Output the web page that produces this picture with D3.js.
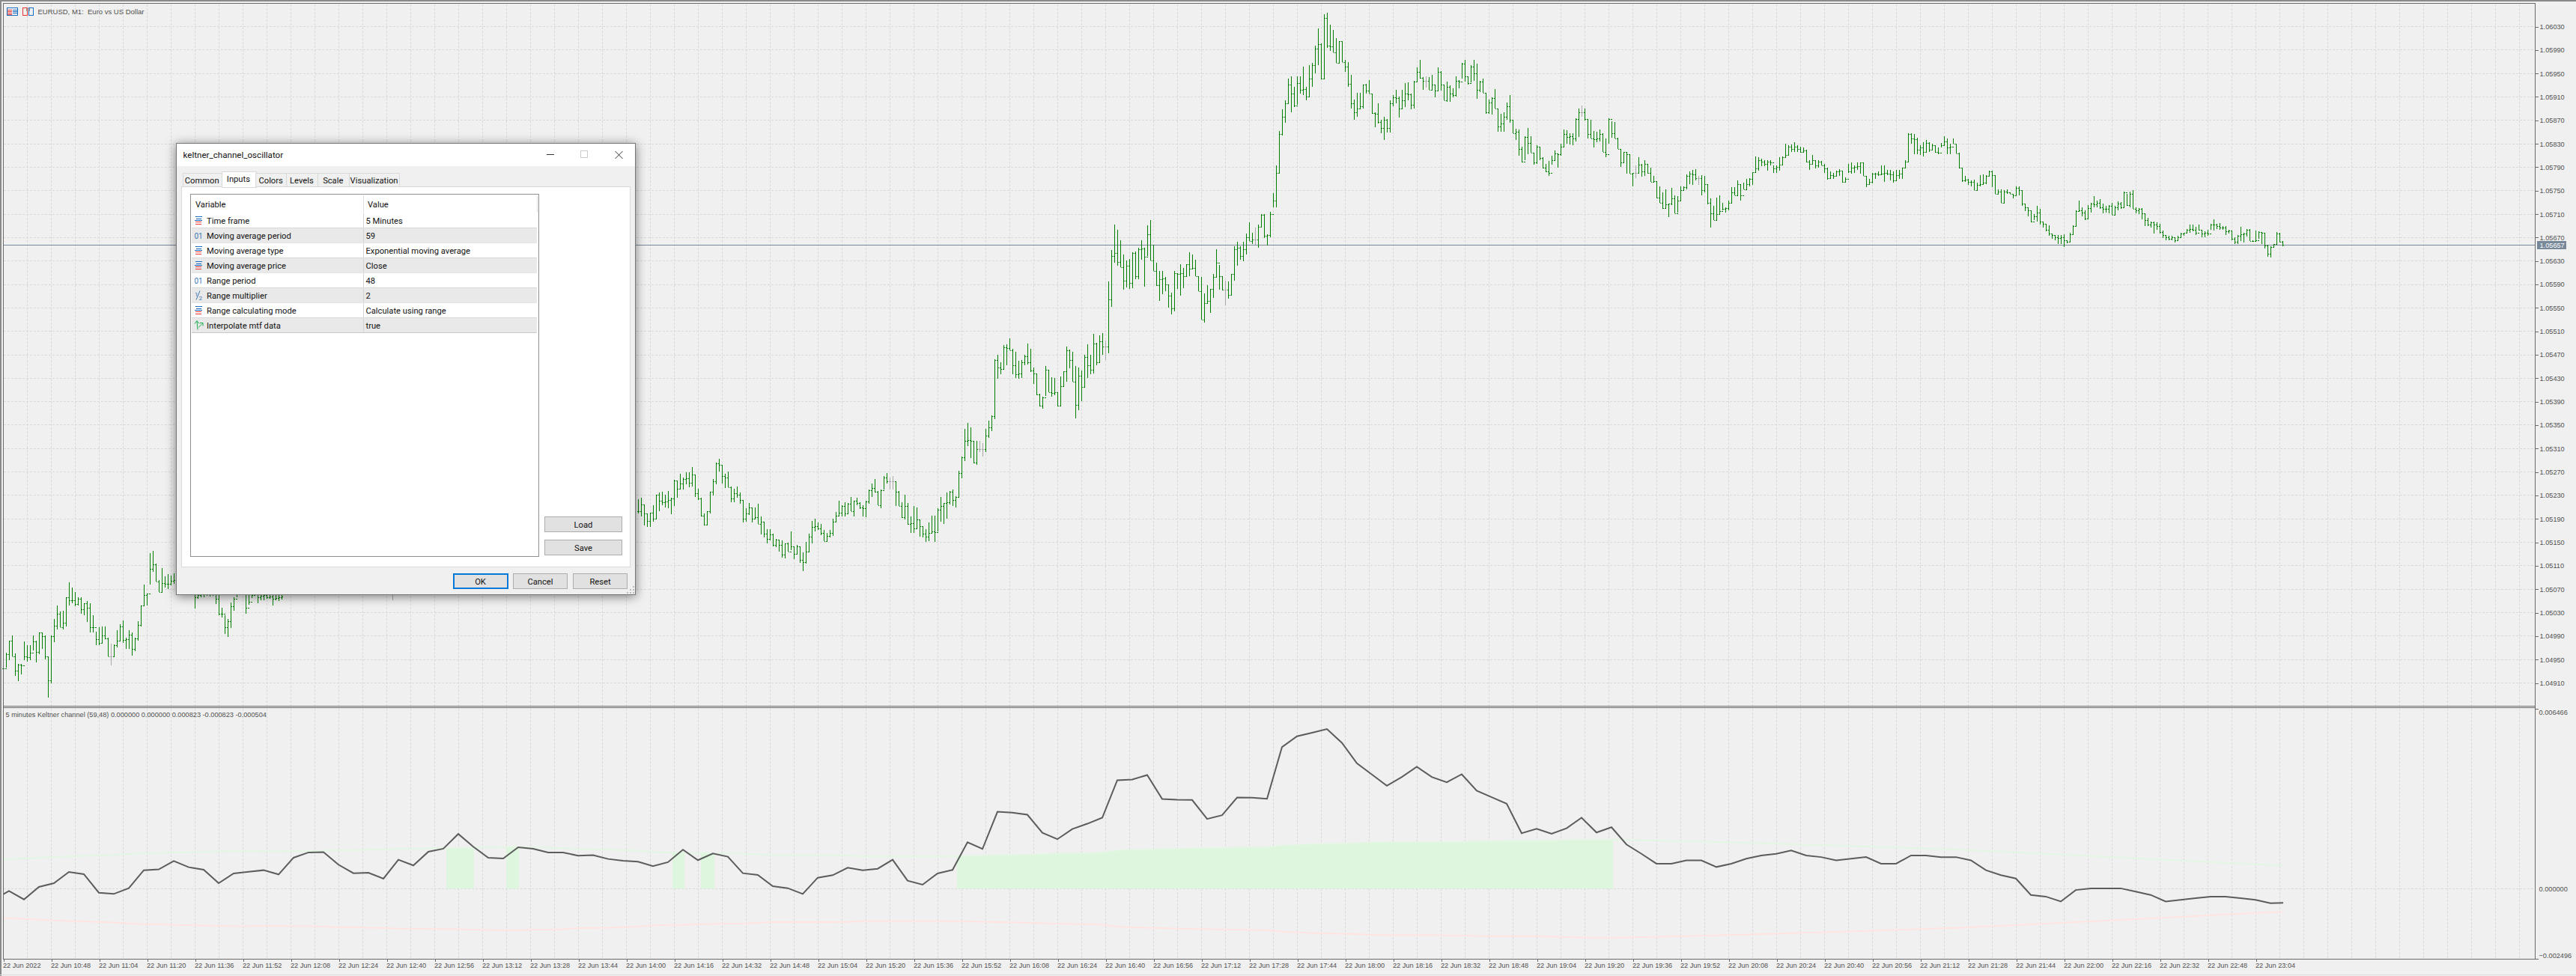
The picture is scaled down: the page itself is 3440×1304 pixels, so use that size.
<!DOCTYPE html>
<html><head><meta charset="utf-8">
<script src="https://cdn.jsdelivr.net/npm/d3@7/dist/d3.min.js"></script>
<style>html,body{margin:0;padding:0;background:#f0f0f0;overflow:hidden}svg{display:block}</style>
</head><body><svg id="c" width="3440" height="1304"></svg>
<script>
// Prices are kept as points above 1.00000 (5657 = 1.05657). Bars under the dialog are not readable and are omitted.
const leftStart = 0;
const highsLeft = [4935,4961,4982,4991,4960,4942,4942,4980,4974,4974,4991,4981,4996,4995,4990,4953,4990,5019,5042,5031,
5033,5055,5081,5072,5065,5056,5055,5046,5049,5045,5025,4997,5004,5006,5006,4986,4976,4975,4999,5010,
5016,4987,4999,4995,4987,5015,5042,5077,5062,5131,5135,5113,5085,5106,5091,5095,5093,5097,5110,5112,
5115,5110,5105,5100,5095,5090,5090,5088,5088,5086,5086,5080,5065,5038,5025,5018,5047,5056,5075,5100,
5100,5075,5080,5085,5085,5085,5085,5085,5085,5085,5085,5085,5085,5085];
const lowsLeft = [4932,4935,4948,4955,4921,4912,4924,4948,4946,4948,4965,4944,4958,4968,4950,4885,4909,4979,5001,5005,
5001,5006,5042,5046,5040,5042,5027,5025,5013,4995,4995,4974,4974,4976,4984,4955,4940,4954,4970,4980,
4978,4967,4967,4956,4963,4981,5006,5042,5041,5077,5099,5082,5064,5064,5072,5069,5076,5079,5070,5072,
5075,5070,5065,5060,5036,5053,5055,5056,5058,5057,5058,5044,5025,5021,4993,4988,5003,5032,5055,5065,
5065,5027,5043,5054,5060,5045,5050,5050,5053,5053,5041,5050,5049,5052];
const closesLeft = [4934,4958,4982,4955,4931,4941,4940,4955,4954,4961,4980,4962,4996,4989,4955,4914,4989,5007,5027,5005,
5012,5055,5050,5051,5044,5053,5035,5045,5038,5004,5005,4984,4978,4991,4985,4955,4955,4974,4982,5006,
4983,4984,4992,4967,4985,5008,5042,5060,5062,5104,5112,5082,5064,5080,5079,5078,5084,5085,5088,5092,
5095,5090,5085,5080,5055,5060,5062,5063,5064,5063,5065,5053,5028,5027,5004,5015,5040,5053,5063,5080,
5078,5038,5048,5060,5062,5055,5058,5059,5056,5057,5053,5054,5056,5057];
const midStart = 130;
const highsMid = [5090];
const lowsMid = [5050];
const closesMid = [5070];
const rightStart = 212;
const highsRight = [5223,5225,5214,5199,5200,5213,5231,5235,5236,5230,
5237,5225,5256,5254,5266,5260,5269,5269,5278,5264,
5241,5225,5199,5203,5236,5258,5286,5292,5282,5266,
5270,5245,5241,5245,5235,5221,5207,5216,5209,5209,
5215,5193,5185,5172,5172,5164,5155,5153,5153,5148,
5149,5168,5143,5145,5143,5132,5150,5164,5186,5190,
5183,5181,5170,5166,5170,5190,5201,5220,5213,5218,
5217,5227,5220,5226,5218,5213,5220,5240,5250,5257,
5237,5239,5262,5267,5260,5262,5254,5237,5218,5230,
5217,5194,5212,5209,5188,5176,5172,5183,5195,5195,
5207,5227,5217,5235,5237,5239,5228,5271,5296,5343,
5353,5345,5323,5323,5323,5319,5343,5357,5366,5462,
5470,5457,5486,5487,5497,5479,5475,5459,5461,5470,
5489,5480,5448,5437,5403,5398,5450,5444,5431,5430,
5404,5432,5441,5484,5478,5475,5450,5448,5443,5470,
5487,5470,5505,5490,5502,5507,5493,5595,5648,5692,
5682,5665,5641,5630,5633,5644,5645,5652,5665,5652,
5690,5699,5657,5627,5612,5613,5602,5590,5575,5612,
5607,5624,5618,5624,5644,5641,5631,5604,5602,5574,
5588,5582,5607,5649,5623,5603,5596,5594,5607,5655,
5662,5655,5662,5676,5695,5677,5687,5691,5710,5709,
5675,5713,5745,5793,5851,5888,5904,5941,5944,5927,
5944,5944,5961,5927,5964,5967,5997,6026,6001,6050,
6053,6032,6023,6010,6005,6004,5972,5969,5947,5905,
5916,5916,5931,5932,5938,5915,5883,5899,5870,5875,
5872,5903,5912,5921,5910,5921,5933,5934,5915,5937,
5960,5972,5943,5945,5943,5947,5931,5960,5953,5930,
5936,5929,5924,5944,5938,5967,5972,5944,5963,5972,
5966,5937,5941,5916,5905,5909,5923,5890,5881,5883,
5900,5912,5871,5855,5854,5825,5842,5856,5842,5814,
5827,5824,5806,5795,5800,5809,5818,5812,5830,5854,
5852,5847,5847,5873,5889,5895,5890,5872,5871,5851,
5850,5854,5847,5838,5873,5868,5866,5840,5821,5816,
5815,5811,5780,5793,5807,5795,5801,5795,5788,5775,
5765,5757,5746,5752,5727,5754,5742,5740,5757,5757,
5777,5782,5785,5786,5775,5776,5775,5761,5736,5723,
5738,5742,5729,5721,5733,5755,5755,5767,5761,5763,
5770,5771,5781,5808,5806,5804,5802,5801,5801,5792,
5792,5806,5808,5829,5827,5828,5832,5827,5824,5823,
5819,5801,5810,5802,5801,5800,5795,5788,5782,5780,
5784,5786,5784,5772,5795,5797,5792,5797,5798,5797,
5774,5770,5780,5780,5782,5793,5793,5785,5785,5782,
5785,5785,5789,5801,5848,5847,5846,5840,5827,5832,
5836,5832,5829,5827,5823,5831,5842,5838,5829,5839,
5829,5814,5788,5774,5770,5767,5768,5763,5776,5777,
5776,5784,5784,5776,5751,5751,5750,5751,5747,5744,
5757,5757,5750,5727,5721,5716,5710,5723,5719,5697,
5691,5690,5676,5674,5674,5674,5675,5665,5677,5690,
5716,5733,5721,5716,5725,5729,5740,5733,5735,5727,
5723,5725,5729,5723,5731,5730,5748,5744,5748,5750,
5721,5720,5720,5711,5703,5697,5697,5695,5693,5681,
5674,5672,5673,5670,5673,5678,5678,5684,5691,5691,
5688,5691,5682,5680,5682,5693,5700,5693,5694,5689,
5689,5682,5680,5670,5674,5688,5678,5684,5684,5665,
5681,5680,5679,5678,5657,5654,5659,5679,5678,5663];
const lowsRight = [5198,5194,5178,5176,5175,5184,5190,5203,5213,5209,
5208,5197,5212,5225,5240,5240,5248,5243,5245,5227,
5222,5194,5178,5180,5198,5229,5249,5270,5250,5242,
5243,5218,5218,5225,5215,5183,5185,5196,5183,5190,
5181,5163,5158,5148,5153,5143,5141,5134,5123,5122,
5134,5136,5121,5128,5114,5100,5113,5133,5148,5168,
5170,5162,5152,5152,5158,5160,5184,5194,5193,5194,
5198,5203,5194,5213,5206,5194,5192,5215,5227,5234,
5213,5208,5239,5250,5240,5240,5212,5212,5191,5188,
5179,5166,5166,5173,5159,5158,5150,5152,5164,5150,
5168,5185,5181,5190,5214,5212,5209,5227,5259,5288,
5314,5293,5284,5282,5303,5296,5303,5328,5339,5359,
5428,5436,5445,5452,5477,5436,5430,5428,5430,5451,
5453,5440,5419,5401,5381,5378,5399,5406,5398,5401,
5381,5382,5414,5423,5447,5424,5361,5375,5390,5414,
5430,5436,5437,5451,5456,5470,5460,5472,5551,5626,
5621,5619,5580,5584,5582,5583,5598,5598,5632,5586,
5638,5630,5612,5587,5561,5573,5578,5550,5538,5543,
5582,5570,5583,5602,5604,5615,5604,5578,5529,5524,
5558,5541,5567,5602,5580,5579,5554,5565,5570,5596,
5621,5631,5629,5640,5663,5658,5657,5652,5687,5669,
5656,5670,5721,5721,5780,5843,5865,5897,5883,5892,
5896,5915,5912,5903,5910,5927,5950,5964,5939,5939,
5993,5988,5985,5967,5966,5969,5952,5926,5890,5870,
5875,5888,5890,5915,5915,5880,5858,5864,5847,5836,
5849,5849,5893,5898,5874,5890,5892,5903,5888,5890,
5935,5941,5922,5925,5922,5922,5909,5920,5920,5903,
5901,5901,5909,5910,5924,5941,5935,5930,5934,5937,
5906,5918,5916,5881,5881,5879,5890,5850,5850,5850,
5871,5865,5847,5836,5809,5798,5801,5812,5814,5794,
5795,5801,5787,5781,5775,5794,5801,5788,5809,5824,
5830,5828,5827,5833,5841,5875,5869,5838,5838,5823,
5832,5833,5816,5807,5830,5840,5838,5821,5790,5796,
5778,5779,5757,5771,5778,5773,5774,5778,5764,5764,
5736,5728,5718,5718,5704,5725,5711,5712,5733,5750,
5751,5761,5759,5767,5759,5742,5746,5726,5687,5699,
5699,5710,5716,5712,5716,5728,5742,5741,5733,5751,
5751,5757,5759,5781,5784,5791,5791,5784,5792,5780,
5780,5784,5793,5806,5810,5815,5816,5816,5814,5815,
5797,5785,5794,5787,5788,5792,5780,5768,5770,5770,
5773,5774,5763,5763,5780,5778,5780,5785,5778,5774,
5756,5761,5762,5770,5775,5776,5765,5776,5767,5763,
5767,5770,5770,5788,5799,5829,5812,5812,5810,5808,
5816,5816,5819,5814,5812,5823,5827,5812,5812,5829,
5813,5787,5764,5764,5759,5757,5750,5750,5757,5759,
5761,5774,5755,5744,5744,5728,5728,5744,5744,5736,
5742,5742,5723,5714,5706,5695,5699,5697,5691,5687,
5680,5672,5667,5665,5658,5658,5653,5660,5662,5675,
5689,5713,5706,5699,5702,5712,5721,5721,5718,5711,
5712,5711,5708,5708,5716,5719,5721,5723,5721,5718,
5711,5710,5700,5689,5689,5687,5676,5682,5676,5669,
5665,5665,5665,5661,5663,5670,5673,5676,5678,5680,
5674,5681,5670,5670,5672,5682,5681,5684,5682,5682,
5674,5676,5665,5659,5658,5664,5661,5671,5663,5662,
5664,5667,5658,5651,5637,5635,5653,5658,5661,5654];
const closesRight = [5203,5214,5199,5186,5200,5190,5231,5220,5218,5219,
5222,5224,5255,5241,5250,5258,5259,5251,5265,5233,
5224,5195,5179,5203,5236,5254,5284,5282,5263,5260,
5243,5224,5233,5230,5221,5190,5198,5209,5190,5192,
5181,5185,5164,5155,5163,5145,5154,5145,5128,5148,
5134,5143,5130,5143,5120,5116,5133,5159,5176,5177,
5173,5165,5152,5160,5165,5185,5195,5200,5212,5198,
5215,5203,5220,5217,5209,5207,5219,5238,5242,5236,
5213,5238,5260,5254,5254,5254,5236,5212,5192,5212,
5181,5182,5173,5188,5177,5164,5159,5166,5168,5167,
5205,5212,5217,5218,5236,5222,5227,5268,5295,5323,
5324,5322,5286,5308,5308,5308,5331,5346,5365,5461,
5448,5445,5482,5481,5477,5451,5436,5437,5456,5467,
5456,5443,5437,5402,5383,5396,5444,5406,5404,5405,
5382,5416,5441,5477,5461,5424,5384,5433,5414,5465,
5451,5444,5488,5456,5492,5483,5483,5564,5638,5643,
5628,5619,5596,5621,5592,5643,5603,5650,5651,5637,
5675,5630,5612,5588,5598,5600,5590,5570,5548,5609,
5607,5609,5604,5624,5616,5617,5604,5578,5529,5558,
5561,5582,5602,5627,5603,5581,5581,5571,5607,5650,
5652,5638,5649,5670,5663,5666,5666,5688,5708,5673,
5674,5709,5733,5780,5846,5875,5898,5931,5915,5895,
5933,5922,5923,5910,5940,5964,5992,5999,5941,6044,
5997,5995,5985,5967,6004,5969,5961,5932,5898,5883,
5889,5893,5930,5920,5915,5882,5881,5866,5856,5870,
5856,5898,5909,5907,5889,5903,5915,5914,5896,5936,
5952,5942,5937,5937,5922,5930,5920,5952,5930,5903,
5926,5915,5912,5937,5935,5966,5944,5933,5961,5949,
5922,5935,5916,5883,5900,5908,5890,5859,5864,5876,
5893,5871,5847,5850,5820,5799,5841,5831,5814,5798,
5824,5805,5788,5782,5780,5801,5813,5811,5824,5846,
5841,5842,5838,5872,5883,5883,5872,5846,5838,5837,
5838,5846,5816,5812,5872,5848,5838,5821,5797,5815,
5811,5779,5780,5780,5794,5782,5795,5780,5764,5766,
5738,5728,5720,5726,5727,5736,5711,5733,5750,5756,
5775,5778,5777,5771,5771,5750,5761,5728,5711,5699,
5710,5714,5719,5720,5728,5746,5742,5761,5742,5751,
5761,5770,5781,5787,5801,5799,5795,5799,5797,5787,
5790,5794,5806,5810,5824,5821,5825,5821,5816,5818,
5799,5795,5801,5793,5799,5793,5787,5771,5776,5774,
5782,5784,5764,5770,5782,5789,5790,5791,5797,5774,
5761,5765,5778,5779,5777,5778,5780,5778,5777,5767,
5776,5778,5788,5799,5846,5838,5837,5819,5823,5816,
5831,5819,5827,5816,5814,5827,5833,5823,5824,5829,
5813,5788,5767,5768,5765,5764,5750,5759,5761,5763,
5774,5782,5776,5744,5748,5728,5748,5746,5744,5742,
5754,5750,5727,5721,5716,5697,5706,5712,5697,5693,
5682,5676,5674,5670,5668,5670,5665,5662,5675,5689,
5715,5716,5712,5702,5720,5727,5726,5729,5721,5719,
5718,5723,5708,5721,5727,5721,5747,5725,5744,5719,
5716,5719,5711,5699,5692,5695,5692,5689,5679,5674,
5670,5667,5670,5665,5670,5676,5677,5682,5684,5682,
5678,5683,5676,5678,5676,5691,5692,5689,5687,5686,
5680,5681,5667,5662,5672,5675,5676,5683,5663,5664,
5665,5679,5677,5656,5642,5653,5658,5676,5662,5657];
const lastPrice = 1.05657;
const priceTicks = [1.04910,1.04950,1.04990,1.05030,1.05070,1.05110,1.05150,1.05190,1.05230,1.05270,1.05310,1.05350,1.05390,1.05430,1.05470,1.05510,1.05550,1.05590,1.05630,1.05670,1.05710,1.05750,1.05790,1.05830,1.05870,1.05910,1.05950,1.05990,1.06030];
const timeLabels = ["22 Jun 2022","22 Jun 10:48","22 Jun 11:04","22 Jun 11:20","22 Jun 11:36","22 Jun 11:52","22 Jun 12:08","22 Jun 12:24","22 Jun 12:40","22 Jun 12:56","22 Jun 13:12","22 Jun 13:28","22 Jun 13:44","22 Jun 14:00","22 Jun 14:16","22 Jun 14:32","22 Jun 14:48","22 Jun 15:04","22 Jun 15:20","22 Jun 15:36","22 Jun 15:52","22 Jun 16:08","22 Jun 16:24","22 Jun 16:40","22 Jun 16:56","22 Jun 17:12","22 Jun 17:28","22 Jun 17:44","22 Jun 18:00","22 Jun 18:16","22 Jun 18:32","22 Jun 18:48","22 Jun 19:04","22 Jun 19:20","22 Jun 19:36","22 Jun 19:52","22 Jun 20:08","22 Jun 20:24","22 Jun 20:40","22 Jun 20:56","22 Jun 21:12","22 Jun 21:28","22 Jun 21:44","22 Jun 22:00","22 Jun 22:16","22 Jun 22:32","22 Jun 22:48","22 Jun 23:04"];
// Oscillator, millionths, one value per 5-minute bar
const oscValues = [-385,-80,-385,63,197,599,519,-143,-188,18,662,689,993,769,680,197,546,608,662,510,1109,1297,1306,859,554,572,358,1037,832,1324,1431,1959,1502,1109,1082,1485,
1431,1297,1297,1180,1198,1064,1002,966,805,948,1395,1020,1261,1145,554,492,89,18,-188,393,483,751,662,715,1037,286,143,546,671,1663,1422,2754,2719,2647,2003,1771,2137,2325,2540,3881,3908,4069,3210,3184,3175,2495,2629,3264,3255,3219,5071,5455,5580,5715,5223,4489,4087,3684,3997,4364,3997,3810,4096,3506,3273,3041,1985,2146,1967,2164,2540,2012,2200,1583,
1249,895,895,1013,1013,777,895,1072,1190,1249,1366,1190,1131,1013,1072,1131,895,895,1190,1190,1131,1131,1013,660,483,365,-224,-283,-460,-47,12,12,12,-106,-224,-460,-400,-342,-283,-283,-342,-400,-518,-504];
const bandValues = [1055,1064,1082,1109,1136,1154,1172,1190,1207,1243,1270,1279,1297,1306,1315,1333,1341,1341,1333,1333,1341,1341,1359,1377,1377,1395,1404,1431,1431,1440,1449,1449,1467,1476,1484,1493,
1467,1467,1449,1413,1404,1395,1377,1359,1315,1297,1297,1270,1261,1252,1252,1225,1198,1198,1198,1198,1198,1189,1154,1154,1154,1154,1154,1154,1162,1171,1180,1198,1207,1216,1234,1252,1261,1270,1288,1359,1386,1395,1413,1431,1440,1449,1458,1467,1476,1485,1538,1565,1583,1600,1610,1628,1654,1663,1663,1663,1663,1672,1672,1690,1699,1708,1708,1708,1717,1735,1744,1753,1753,1744,
1735,1726,1708,1699,1681,1672,1654,1645,1627,1609,1591,1573,1564,1546,1528,1510,1492,1474,1456,1438,1420,1402,1375,1348,1330,1303,1276,1249,1222,1195,1168,1141,1114,1087,1060,1033,1006,979,952,925,898,871,850,823];
// Spans (in minutes from the first bar) where the oscillator sits above the upper band
const fillFromMinute = [147.9,167.9,223.4,232.9,318.4];
const fillToMinute = [157.1,172.1,227.4,237.4,537.4];
const oscTicks = [-0.002496,0,0.006466];
const oscLegend = "5 minutes Keltner channel (59,48) 0.000000 0.000000 0.000823 -0.000823 -0.000504";
const chartTitle = "EURUSD, M1:  Euro vs US Dollar";
const tabNames = ["Common","Inputs","Colors","Levels","Scale","Visualization"];
const inputNames = ["Time frame","Moving average period","Moving average type","Moving average price","Range period","Range multiplier","Range calculating mode","Interpolate mtf data"];
const inputValues = ["5 Minutes","59","Exponential moving average","Close","48","2","Calculate using range","true"];
const inputKinds = ["enum","int","enum","enum","int","frac","enum","bool"];

const svg = d3.select("#c");
const CF = "'Liberation Sans',Arial,sans-serif", UI = "Roboto,'Noto Sans',sans-serif";
const GRID = "#d9d9d9", FRAME = "#6a6a6a", TXT = "#505050";
const pts = p => 1 + p / 100000;
const x = d3.scaleLinear().domain([0, 840]).range([4.5, 3364.5]);
const yP = d3.scaleLinear().domain([1.04910, 1.06030]).range([912, 35]);
const yO = d3.scaleLinear().domain([-0.002496, 0.006466]).range([1280.5, 946]);
const snap = v => Math.round(v) + 0.5;

function seg(start, hi, lo, cl) {
  return hi.map((h, j) => ({ i: start + j, h: pts(h), l: pts(lo[j]), c: pts(cl[j]), o: pts(j ? cl[j - 1] : cl[j]), flat: j > 0 && cl[j] === cl[j - 1] }));
}
const bars = [...seg(leftStart, highsLeft, lowsLeft, closesLeft), ...seg(midStart, highsMid, lowsMid, closesMid), ...seg(rightStart, highsRight, lowsRight, closesRight)];
bars.filter(b => b.i === midStart).forEach(b => b.flat = true);

// grids
const vGrid = d3.range(8, 841, 8);
const gridG = svg.append("g").attr("stroke", GRID).attr("stroke-dasharray", "3,2").attr("shape-rendering", "crispEdges");
gridG.selectAll(".vm").data(vGrid).join("line").attr("class", "vm").attr("x1", d => x(d)).attr("x2", d => x(d)).attr("y1", 6).attr("y2", 943);
gridG.selectAll(".vo").data(vGrid).join("line").attr("class", "vo").attr("x1", d => x(d)).attr("x2", d => x(d)).attr("y1", 947).attr("y2", 1281);
gridG.selectAll(".hm").data(priceTicks).join("line").attr("class", "hm").attr("x1", 5).attr("x2", 3385).attr("y1", d => snap(yP(d))).attr("y2", d => snap(yP(d)));
gridG.append("line").attr("x1", 5).attr("x2", 3385).attr("y1", snap(yO(0))).attr("y2", snap(yO(0)));

// oscillator fill and lines
const oscIdx = oscValues.map((_, j) => 1.875 + 5 * (j - 1));
const bandAt = d3.scaleLinear().domain(oscIdx).range(bandValues);
const area = d3.area().x(d => x(d)).y0(yO(0)).y1(d => yO(bandAt(d) * 1e-6));
svg.append("defs").append("clipPath").attr("id", "oscClip").append("rect").attr("x", 5).attr("y", 946).attr("width", 3044).attr("height", 335);
const og = svg.append("g").attr("clip-path", "url(#oscClip)");
fillFromMinute.forEach((f, n) => {
  const t = fillToMinute[n];
  og.append("path").attr("d", area([f, ...oscIdx.filter(i => i > f && i < t), t])).attr("fill", "#ddf6dd");
});
const lineFn = acc => d3.line().x((d, j) => x(oscIdx[j])).y(d => yO(acc(d) * 1e-6));
og.append("path").attr("d", lineFn(d => d)(bandValues)).attr("fill", "none").attr("stroke", "#e3f6e3").attr("stroke-width", 2);
og.append("path").attr("d", lineFn(d => -d)(bandValues)).attr("fill", "none").attr("stroke", "#ffe4e1").attr("stroke-width", 2);
og.append("path").attr("d", lineFn(d => d)(oscValues)).attr("fill", "none").attr("stroke", "#5c5c5c").attr("stroke-width", 2);

// price line
svg.append("line").attr("x1", 5).attr("x2", 3385).attr("y1", snap(yP(lastPrice))).attr("y2", snap(yP(lastPrice))).attr("stroke", "#778899").attr("shape-rendering", "crispEdges");

// OHLC bars
svg.append("g").attr("fill", "none").attr("shape-rendering", "crispEdges").selectAll("path").data(bars).join("path")
  .attr("stroke", b => b.flat ? "#a9a9a9" : "#008000")
  .attr("d", b => { const X = x(b.i); return `M${X},${Math.round(yP(b.h))}V${Math.round(yP(b.l))}M${X - 1.5},${snap(yP(b.o))}H${X}M${X},${snap(yP(b.c))}H${X + 1.5}`; });

// frame
const fr = svg.append("g").attr("stroke", FRAME).attr("shape-rendering", "crispEdges").attr("fill", "none");
fr.append("path").attr("d", "M4.5,4.5H3385.5V1281.5H4.5Z");
fr.append("path").attr("d", "M4.5,943.5H3385.5M4.5,945.5H3385.5");
svg.append("rect").attr("x", 0).attr("y", 0).attr("width", 3440).attr("height", 2).attr("fill", "#8a8a8a");
svg.append("rect").attr("x", 0).attr("y", 0).attr("width", 2).attr("height", 1304).attr("fill", "#8a8a8a");
svg.append("rect").attr("x", 0).attr("y", 1302).attr("width", 3440).attr("height", 1).attr("fill", "#dcdcdc");

// axes
const styleAxis = g => { g.select(".domain").remove(); g.selectAll("line").attr("stroke", FRAME).attr("shape-rendering", "crispEdges"); g.selectAll("text").attr("fill", TXT).attr("font-family", CF).attr("font-size", 9.2); };
svg.append("g").attr("transform", "translate(3385.5,0.5)").call(d3.axisRight(yP).tickValues(priceTicks).tickSize(4).tickPadding(2).tickFormat(d3.format(".5f"))).call(styleAxis);
const oAxis = svg.append("g").attr("transform", "translate(3385.5,0.5)").call(d3.axisRight(yO).tickValues(oscTicks).tickSize(4).tickPadding(1).tickFormat(d3.format(".6f"))).call(styleAxis);
oAxis.selectAll(".tick").each(function (d) {
  const t = d3.select(this);
  if (d === 0) t.select("line").remove();
  t.select("text").attr("dy", d > 0 ? "0.85em" : d < 0 ? "-0.15em" : "0.33em");
});
const timeIdx = timeLabels.map((_, j) => j * 16);
const xa = svg.append("g").attr("transform", "translate(0,1281.5)").call(d3.axisBottom(x).tickValues(timeIdx).tickSize(3).tickPadding(2).tickFormat((d, j) => timeLabels[j])).call(styleAxis);
xa.selectAll("text").attr("text-anchor", "start").attr("dx", -1);

// last price tag
const yLast = snap(yP(lastPrice));
svg.append("rect").attr("x", 3388).attr("y", yLast - 5.5).attr("width", 39).attr("height", 11).attr("fill", "#778899");
svg.append("text").attr("x", 3391.5).attr("y", yLast + 3).attr("fill", "#fff").attr("font-family", CF).attr("font-size", 9.2).text(d3.format(".5f")(lastPrice));

// captions
svg.append("text").attr("x", 50.5).attr("y", 18.5).attr("fill", TXT).attr("font-family", CF).attr("font-size", 9.5).style("white-space", "pre").text(chartTitle);
svg.append("text").attr("x", 7.5).attr("y", 958).attr("fill", TXT).attr("font-family", CF).attr("font-size", 9.2).text(oscLegend);
// title icons
const ic = svg.append("g").attr("fill", "none").attr("shape-rendering", "crispEdges");
ic.append("rect").attr("x", 9.5).attr("y", 10.5).attr("width", 14).attr("height", 10).attr("stroke", "#1a6fc4");
ic.append("path").attr("d", "M10,13.5H16M10,15.5H16M10,17.5H16M10,19.5H16").attr("stroke", "#e33");
ic.append("path").attr("d", "M17,13.5H23M17,15.5H23M17,17.5H23").attr("stroke", "#1a6fc4");
ic.append("rect").attr("x", 30.5).attr("y", 10.5).attr("width", 6).attr("height", 10).attr("stroke", "#e33");
ic.append("rect").attr("x", 38.5).attr("y", 10.5).attr("width", 6).attr("height", 10).attr("stroke", "#1a6fc4");
ic.append("rect").attr("x", 35.5).attr("y", 11.5).attr("width", 4).attr("height", 3).attr("stroke", "#999");

// dialog
const dlg = svg.append("g");
dlg.append("rect").attr("x", 235.5).attr("y", 191.5).attr("width", 613).attr("height", 603).attr("fill", "#f0f0f0").attr("stroke", "#777").style("filter", "drop-shadow(0px 2px 7px rgba(0,0,0,.5))");
dlg.append("rect").attr("x", 236).attr("y", 192).attr("width", 612).attr("height", 30).attr("fill", "#fff");
const uiText = (s, X, Y, o = {}) => dlg.append("text").attr("x", X).attr("y", Y).attr("font-family", UI).attr("font-size", o.size || 11.2).attr("fill", o.fill || "#111").attr("text-anchor", o.anchor || "start").text(s);
uiText("keltner_channel_oscillator", 244.5, 211, { size: 11.6 });
dlg.append("path").attr("d", "M730,206.5H740").attr("stroke", "#333").attr("shape-rendering", "crispEdges");
dlg.append("rect").attr("x", 775.5).attr("y", 201.5).attr("width", 9).attr("height", 9).attr("fill", "none").attr("stroke", "#ccc").attr("shape-rendering", "crispEdges");
dlg.append("path").attr("d", "M821.5,202L831.5,212M831.5,202L821.5,212").attr("stroke", "#333");
// tabs
dlg.append("rect").attr("x", 242.5).attr("y", 249.5).attr("width", 599).attr("height", 508).attr("fill", "#fff").attr("stroke", "#d9d9d9").attr("shape-rendering", "crispEdges");
const tabEdges = [244, 295.5, 341.3, 382, 423.7, 465.8, 533.3];
tabNames.forEach((t, n) => {
  const active = n === 1, X0 = tabEdges[n], X1 = tabEdges[n + 1];
  dlg.append("rect").attr("x", Math.round(X0) + .5).attr("y", active ? 229.5 : 231.5).attr("width", Math.round(X1 - X0)).attr("height", active ? 20.5 : 18).attr("fill", active ? "#fff" : "#f0f0f0").attr("stroke", "#d9d9d9").attr("shape-rendering", "crispEdges");
  uiText(t, (X0 + X1) / 2, active ? 243 : 245, { anchor: "middle" });
});
// table
dlg.append("rect").attr("x", 254.5).attr("y", 259.5).attr("width", 465).attr("height", 484).attr("fill", "#fff").attr("stroke", "#8f8f8f").attr("shape-rendering", "crispEdges");
uiText("Variable", 261, 277); uiText("Value", 491, 277);
dlg.append("path").attr("d", "M485.5,261V284M717.5,261V284").attr("stroke", "#e0e0e0").attr("shape-rendering", "crispEdges");
const rowY = d3.scaleBand().domain(d3.range(inputNames.length)).range([284.5, 444.5]);
inputNames.forEach((nm, n) => {
  const Y = rowY(n), h = rowY.bandwidth();
  dlg.append("rect").attr("x", 256).attr("y", Y).attr("width", 461).attr("height", h).attr("fill", n % 2 ? "#e9e9e9" : "#fff");
  dlg.append("path").attr("d", `M256,${Y + h}H717`).attr("stroke", "#c8c8c8").attr("shape-rendering", "crispEdges");
  dlg.append("path").attr("d", `M485.5,${Y}V${Y + h}`).attr("stroke", "#d4d4d4").attr("shape-rendering", "crispEdges");
  uiText(nm, 276, Y + 14); uiText(inputValues[n], 488.5, Y + 14);
  const k = inputKinds[n], cx = 265, cy = Y + 10;
  if (k === "enum") {
    dlg.append("path").attr("d", `M${cx - 4},${cy - 5}H${cx + 5}M${cx - 3},${cy - 2.5}H${cx + 4}M${cx - 5},${cy - 0.5}H${cx + 5}`).attr("stroke", "#1a6fc4").attr("stroke-width", 1).attr("shape-rendering", "crispEdges");
    dlg.append("path").attr("d", `M${cx - 4},${cy + 2}H${cx + 4}M${cx - 4},${cy + 5}H${cx + 4}`).attr("stroke", "#e33").attr("shape-rendering", "crispEdges");
  } else if (k === "int") {
    uiText("01", cx - 5.5, cy + 4, { size: 10, fill: "#3a78b5" });
  } else if (k === "frac") {
    uiText("1", cx - 5, cy + 1, { size: 8, fill: "#3a78b5" });
    dlg.append("path").attr("d", `M${cx - 3},${cy + 6}L${cx + 2},${cy - 6}`).attr("stroke", "#3a78b5").attr("fill", "none");
    uiText("2", cx + 0.5, cy + 6, { size: 8, fill: "#3a78b5" });
  } else {
    dlg.append("path").attr("d", `M${cx - 1},${cy + 6}L${cx - 2},${cy - 5}M${cx - 5},${cy - 2}L${cx - 2},${cy - 6}L${cx + 1},${cy - 2}M${cx},${cy + 3}L${cx + 5},${cy - 2}M${cx + 2},${cy - 3}H${cx + 6}V${cy + 1}`).attr("stroke", "#1cae4e").attr("fill", "none");
  }
});
// buttons
const btn = (s, X, Y, W, H, primary) => {
  dlg.append("rect").attr("x", X).attr("y", Y).attr("width", W).attr("height", H).attr("fill", "#e1e1e1").attr("stroke", primary ? "#0078d7" : "#adadad").attr("stroke-width", primary ? 2 : 1).attr("shape-rendering", "crispEdges");
  uiText(s, X + W / 2, Y + H / 2 + 4, { anchor: "middle" });
};
btn("Load", 727.5, 690.5, 103, 20); btn("Save", 727.5, 721.5, 103, 20);
btn("OK", 605.5, 767, 72, 19, true); btn("Cancel", 685.5, 766.5, 72, 20); btn("Reset", 765.5, 766.5, 72, 20);
dlg.selectAll(".grip").data([[845, 783], [845, 787], [845, 791], [841, 787], [841, 791], [837, 791]]).join("rect").attr("class", "grip").attr("x", d => d[0]).attr("y", d => d[1]).attr("width", 2).attr("height", 2).attr("fill", "#bcbcbc");
</script></body></html>
